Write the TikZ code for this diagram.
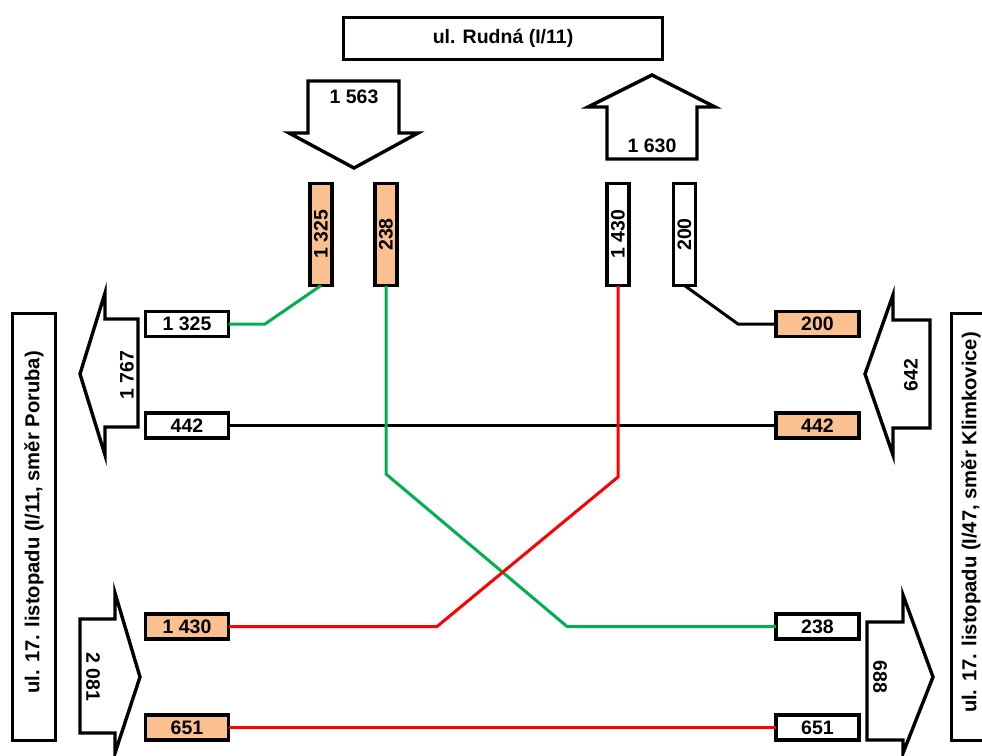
\documentclass[tikz,border=0pt]{standalone}
\usepackage{fontspec}
\setmainfont{Liberation Sans}
\definecolor{boxfill}{HTML}{FAC090}
\definecolor{lgreen}{HTML}{00B050}
\definecolor{lred}{HTML}{FF0000}
\begin{document}
\begin{tikzpicture}[x=1pt,y=-1pt,
  every node/.style={font=\fontsize{19.5}{21}\selectfont\bfseries, inner sep=0pt, outer sep=0pt},
  hbox/.style={draw, line width=3.2pt, minimum width=83pt, minimum height=25pt},
  vbox/.style={draw, line width=3.2pt, rotate=90, minimum width=102pt, minimum height=22pt},
  orange/.style={fill=boxfill},
  white/.style={fill=white},
  bigarrow/.style={draw, line width=3.4pt, line join=miter, fill=white},
  sidebox/.style={draw, line width=3pt, minimum width=43pt, minimum height=427pt},
  sidetext/.style={rotate=90, font=\fontsize{20.2}{22}\selectfont\bfseries},
  conn/.style={line width=3pt},
]
\useasboundingbox (0,0) rectangle (982,755);
\clip (0,0) rectangle (982,755);

% title
\node[draw, line width=3pt, minimum width=319pt, minimum height=42pt] (title) at (503,38.5) {ul. Rudná (I/11)};

% big arrows
\draw[bigarrow] (308,81) -- (399,81) -- (399,133) -- (418,133) -- (354,168) -- (289,133) -- (308,133) -- cycle;
\node (in1563) at (354,97) {1 563};
\draw[bigarrow] (607,159) -- (697,159) -- (697,107) -- (715,107) -- (652,75) -- (588,107) -- (607,107) -- cycle;
\node (out1630) at (652,146) {1 630};

\draw[bigarrow] (138,319) -- (138,427) -- (105,427) -- (105,455) -- (80,374) -- (105,293) -- (105,319) -- cycle;
\node[rotate=90] (out1767) at (127,375) {1 767};
\draw[bigarrow] (930,320) -- (930,428) -- (893,428) -- (893,455) -- (865,374) -- (893,295) -- (893,320) -- cycle;
\node[rotate=90] (in642) at (911,375) {642};
\draw[bigarrow] (80,619) -- (80,733) -- (115,733) -- (115,753) -- (140,677) -- (115,593) -- (115,619) -- cycle;
\node[rotate=-90] (in2081) at (93,677) {2 081};
\draw[bigarrow] (867,622) -- (867,740) -- (903,740) -- (903,753) -- (933,677) -- (903,595) -- (903,622) -- cycle;
\node[rotate=-90] (out688) at (880,677) {688};

% side labels
\node[sidebox] (west) at (34,527) {};
\node[sidetext] (westtext) at (34,522.5) {ul. 17. listopadu (I/11, směr Poruba)};
\node[sidebox] (east) at (973,527) {};
\node[sidetext] (easttext) at (971,522.5) {ul. 17. listopadu (I/47, směr Klimkovice)};

% vertical boxes
\node[vbox, orange] (V1325) at (321,234.5) {1 325};
\node[vbox, orange] (V238) at (386,234.5) {238};
\node[vbox, white] (V1430) at (618,234.5) {1 430};
\node[vbox, white] (V200) at (684.5,234.5) {200};

% horizontal boxes
\node[hbox, white] (L1325) at (187,324) {1 325};
\node[hbox, white] (L442) at (187,425.5) {442};
\node[hbox, orange] (L1430) at (187,626.5) {1 430};
\node[hbox, orange] (L651) at (187,727.5) {651};
\node[hbox, orange] (R200) at (817.5,324) {200};
\node[hbox, orange] (R442) at (817.5,425.5) {442};
\node[hbox, white] (R238) at (817.5,626.5) {238};
\node[hbox, white] (R651) at (817.5,727.5) {651};

% connector bends
\coordinate (g1) at (265,324);
\coordinate (b1) at (738,324);
\coordinate (g2a) at (386,474);
\coordinate (g2b) at (567,626.5);
\coordinate (r1a) at (618,477);
\coordinate (r1b) at (437,626.5);

\draw[conn, lgreen] (L1325.east) -- (g1) -- (V1325.west);
\draw[conn, black] (R200.west) -- (b1) -- (V200.west);
\draw[conn, black] (L442.east) -- (R442.west);
\draw[conn, lgreen] (V238.west) -- (g2a) -- (g2b) -- (R238.west);
\draw[conn, lred] (V1430.west) -- (r1a) -- (r1b) -- (L1430.east);
\draw[conn, lred] (L651.east) -- (R651.west);
\end{tikzpicture}
\end{document}
